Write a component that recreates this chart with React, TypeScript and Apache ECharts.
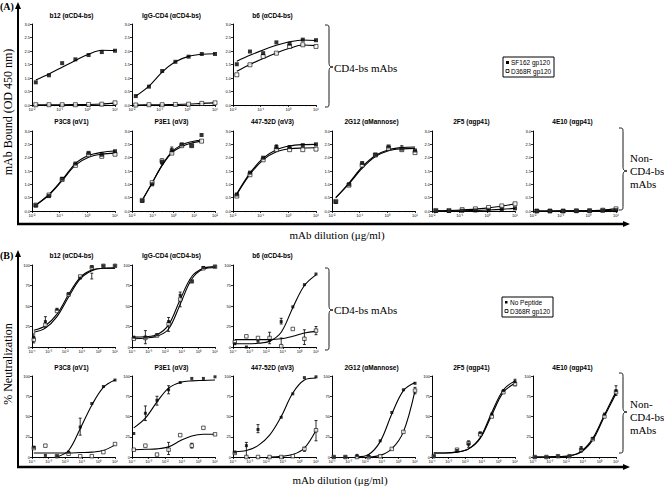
import React, { useEffect, useRef } from 'react';
import * as echarts from 'echarts';

// ---------- DATA ----------
// Panel A (ELISA, OD 450 nm) – 3-fold dilutions, µg/ml
const xA = [0.0137, 0.041, 0.123, 0.37, 1.11, 3.33, 10];
const xA_P3E1 = [0.031, 0.093, 0.28, 0.83, 2.5, 7.5, 22.5];
// Panel B (% neutralization) – 5-fold dilutions, µg/ml
const xB = [0.000128, 0.00064, 0.0032, 0.016, 0.08, 0.4, 2, 10];

const legendA = ['SF162 gp120', 'D368R gp120'];
const legendB = ['No Peptide', 'D368R gp120'];

// A row 1
const b12A_f = [0.84, 1.10, 1.55, 1.69, 1.85, 1.96, 2.01];
const b12A_o = [0.01, 0.01, 0.01, 0.01, 0.02, 0.03, 0.08];
const b12A_ff = [0.93, 1.15, 1.40, 1.65, 1.88, 2.03, 2.02];
const b12A_fo = [0.01, 0.01, 0.01, 0.015, 0.02, 0.035, 0.07];

const iggA_f = [0.33, 0.68, 1.26, 1.60, 1.79, 1.89, 1.89];
const iggA_o = [0.0, 0.01, 0.01, 0.02, 0.03, 0.06, 0.08];
const iggA_ff = [0.33, 0.70, 1.22, 1.60, 1.80, 1.88, 1.90];
const iggA_fo = [0.0, 0.005, 0.01, 0.02, 0.035, 0.06, 0.08];

const b6A_f = [1.51, 1.98, 1.92, 2.32, 2.27, 2.42, 2.40];
const b6A_o = [1.12, 1.49, 1.80, 1.92, 2.17, 2.23, 2.17];
const b6A_ff = [1.62, 1.84, 2.04, 2.21, 2.34, 2.41, 2.39];
const b6A_fo = [1.25, 1.50, 1.72, 1.93, 2.10, 2.22, 2.20];

// A row 2
const p3c8A_f = [0.21, 0.56, 1.21, 1.78, 2.18, 2.11, 2.24];
const p3c8A_o = [0.22, 0.60, 1.18, 1.71, 2.11, 2.05, 2.13];
const p3c8A_ff = [0.22, 0.62, 1.17, 1.78, 2.08, 2.20, 2.25];
const p3c8A_fo = [0.22, 0.60, 1.14, 1.72, 2.02, 2.13, 2.17];

const p3e1A_f = [0.38, 1.00, 1.84, 2.28, 2.50, 2.45, 2.85];
const p3e1A_o = [0.40, 1.06, 1.88, 2.17, 2.45, 2.45, 2.62];
const p3e1A_ff = [0.40, 1.05, 1.72, 2.22, 2.48, 2.60, 2.66];
const p3e1A_fo = [0.40, 1.05, 1.70, 2.18, 2.42, 2.55, 2.62];
const p3e1A_err = [[0.83, 2.15, 2.40], [0.28, 1.75, 1.95]];

const d447A_f = [0.62, 1.44, 2.00, 2.40, 2.40, 2.47, 2.50];
const d447A_o = [0.56, 1.36, 1.92, 2.30, 2.30, 2.30, 2.32];
const d447A_ff = [0.65, 1.42, 1.98, 2.30, 2.44, 2.49, 2.50];
const d447A_fo = [0.62, 1.37, 1.92, 2.22, 2.33, 2.36, 2.37];
const d447A_err = [[0.37, 2.30, 2.48]];

const g2g12A_f = [0.34, 1.00, 1.80, 2.11, 2.42, 2.34, 2.27];
const g2g12A_o = [0.36, 0.97, 1.72, 2.10, 2.35, 2.30, 2.19];
const g2g12A_ff = [0.50, 1.05, 1.65, 2.08, 2.30, 2.38, 2.40];
const g2g12A_fo = [0.50, 1.02, 1.60, 2.04, 2.26, 2.33, 2.35];
const g2g12A_err = [[3.33, 2.25, 2.45]];

const f2f5A_f = [0.0, 0.0, 0.01, 0.02, 0.03, 0.06, 0.10];
const f2f5A_o = [0.02, 0.02, 0.05, 0.08, 0.13, 0.19, 0.27];
const f2f5A_ff = [0.0, 0.005, 0.01, 0.02, 0.035, 0.06, 0.10];
const f2f5A_fo = [0.01, 0.02, 0.04, 0.07, 0.12, 0.18, 0.27];

const e4e10A_f = [0, 0, 0, 0, 0.01, 0.02, 0.03];
const e4e10A_o = [0, 0, 0, 0.01, 0.01, 0.03, 0.08];
const e4e10A_ff = [0, 0, 0, 0.005, 0.01, 0.02, 0.03];
const e4e10A_fo = [0, 0, 0.005, 0.01, 0.02, 0.04, 0.08];

// B row 1
const b12B_f = [12, 31, 46, 65, 84, 98, 99, 99];
const b12B_o = [9, 27, 44, 64, 86, 97, 99, 99];
const b12B_ff = [20.5, 26, 40, 64, 85, 94, 96, 96.5];
const b12B_fo = [18, 23, 37, 61, 83, 93, 96, 96];
const b12B_err = [[0.000128, 5, 16], [0.00064, 24, 37], [0.4, 83, 90]];

const iggB_f = [12, 12, 15, 31, 63, 80, 97, 98];
const iggB_o = [10, 11, 14, 28, 58, 80, 96, 98];
const iggB_ff = [12, 12.5, 15, 27, 58, 86, 96, 98];
const iggB_fo = [10, 11, 13, 22, 52, 83, 95, 97];
const iggB_err = [[0.00064, 4, 20], [0.016, 19, 36], [0.08, 49, 67]];

const b6B_f = [4, 0, 7, 8, 31, 49, 76, 89];
const b6B_o = [6, 13, 11, 11, 1, 22, 10, 20];
const b6B_ff = [4, 4, 4.5, 7, 18, 48, 75, 88];
const b6B_fo = [9, 9, 9, 9, 10, 13, 17, 19];
const b6B_err = [[0.016, 4, 18], [0.08, 0, 11], [2, 3, 21], [10, 15, 25], [0.08, 28, 35]];

// B row 2
const p3c8B_f = [12, 2, 1, 6, 37, 66, 87, 95];
const p3c8B_o = [11, 14, 1, 4, 1, 1, 6, 16];
const p3c8B_ff = [null, null, 0, 8, 35, 64, 86, 95];
const p3c8B_fo = [5, 5, 5, 5, 5.5, 6, 8, 15];
const p3c8B_err = [[0.08, 27, 48]];

const p3e1B_f = [29, 54, 70, 83, 92, 97, 97, 99];
const p3e1B_o = [9, 14, 3, 9, 27, 14, 36, 28];
const p3e1B_ff = [36, 48, 68, 85, 92, 94, 94.5, 95];
const p3e1B_fo = [9, 9.5, 10, 12.5, 20, 26, 28, 28];
const p3e1B_err = [[0.00064, 45, 63], [0.0032, 64, 75], [0.016, 78, 88], [0.016, 3, 18], [0.4, 11, 17]];

const d447B_f = [6, 14, 34, null, 49, 78, 98, 99];
const d447B_o = [5, 0, 0, 0, 0, 1, 10, 33];
const d447B_ff = [6.5, 8, 14, 27, 50, 79, 95, 97.5];
const d447B_fo = [null, null, null, 0, 1, 3, 11, 33];
const d447B_err = [[0.00064, 0, 18], [0.0032, 30, 40], [10, 20, 45], [2, 7, 12]];

const g2g12B_f = [0, 0, 2, 1, 20, 55, 83, 91];
const g2g12B_o = [0, 0, 0, 0, 1, 10, 31, 82];
const g2g12B_ff = [null, null, 0, 3, 19, 53, 82, 92];
const g2g12B_fo = [null, null, null, 0, 2, 10, 31, 82];
const g2g12B_err = [[10, 78, 86]];

const f2f5B_f = [1, null, 8, 16, 30, 53, 82, 93];
const f2f5B_o = [1, null, 9, 17, 28, 50, 80, 90];
const f2f5B_ff = [5, 5, 6, 10, 24, 55, 83, 94];
const f2f5B_fo = [5, 5, 6, 10, 23, 52, 80, 91];
const f2f5B_err = [[0.016, 12, 20], [10, 88, 96]];

const e4e10B_f = [0, 0, 1, 1, 10, 23, 53, 82];
const e4e10B_o = [0, 0, 1, 1, 9, 22, 50, 80];
const e4e10B_ff = [0, 0, 0.5, 1.5, 7, 23, 52, 81];
const e4e10B_fo = [0, 0, 0.5, 1.5, 6, 21, 50, 78];
const e4e10B_err = [[0.08, 6, 13], [10, 76, 88]];

type Panel = {
  title: string; kind: 'A' | 'B'; xs: number[]; xmin: number; xmax: number;
  f: (number | null)[]; o: (number | null)[]; ff: (number | null)[]; fo: (number | null)[];
  err?: number[][]; col: number; row: number;
};

const panels: Panel[] = [
  { title: 'b12 (αCD4-bs)', kind: 'A', xs: xA, xmin: 0.01, xmax: 10, f: b12A_f, o: b12A_o, ff: b12A_ff, fo: b12A_fo, col: 0, row: 0 },
  { title: 'IgG-CD4 (αCD4-bs)', kind: 'A', xs: xA, xmin: 0.01, xmax: 10, f: iggA_f, o: iggA_o, ff: iggA_ff, fo: iggA_fo, col: 1, row: 0 },
  { title: 'b6 (αCD4-bs)', kind: 'A', xs: xA, xmin: 0.01, xmax: 10, f: b6A_f, o: b6A_o, ff: b6A_ff, fo: b6A_fo, col: 2, row: 0 },
  { title: 'P3C8 (αV1)', kind: 'A', xs: xA, xmin: 0.01, xmax: 10, f: p3c8A_f, o: p3c8A_o, ff: p3c8A_ff, fo: p3c8A_fo, col: 0, row: 1 },
  { title: 'P3E1 (αV3)', kind: 'A', xs: xA_P3E1, xmin: 0.01, xmax: 100, f: p3e1A_f, o: p3e1A_o, ff: p3e1A_ff, fo: p3e1A_fo, err: p3e1A_err, col: 1, row: 1 },
  { title: '447-52D (αV3)', kind: 'A', xs: xA, xmin: 0.01, xmax: 10, f: d447A_f, o: d447A_o, ff: d447A_ff, fo: d447A_fo, err: d447A_err, col: 2, row: 1 },
  { title: '2G12 (αMannose)', kind: 'A', xs: xA, xmin: 0.01, xmax: 10, f: g2g12A_f, o: g2g12A_o, ff: g2g12A_ff, fo: g2g12A_fo, err: g2g12A_err, col: 3, row: 1 },
  { title: '2F5 (αgp41)', kind: 'A', xs: xA, xmin: 0.01, xmax: 10, f: f2f5A_f, o: f2f5A_o, ff: f2f5A_ff, fo: f2f5A_fo, col: 4, row: 1 },
  { title: '4E10 (αgp41)', kind: 'A', xs: xA, xmin: 0.01, xmax: 10, f: e4e10A_f, o: e4e10A_o, ff: e4e10A_ff, fo: e4e10A_fo, col: 5, row: 1 },
  { title: 'b12 (αCD4-bs)', kind: 'B', xs: xB, xmin: 0.0001, xmax: 10, f: b12B_f, o: b12B_o, ff: b12B_ff, fo: b12B_fo, err: b12B_err, col: 0, row: 2 },
  { title: 'IgG-CD4 (αCD4-bs)', kind: 'B', xs: xB, xmin: 0.0001, xmax: 10, f: iggB_f, o: iggB_o, ff: iggB_ff, fo: iggB_fo, err: iggB_err, col: 1, row: 2 },
  { title: 'b6 (αCD4-bs)', kind: 'B', xs: xB, xmin: 0.0001, xmax: 10, f: b6B_f, o: b6B_o, ff: b6B_ff, fo: b6B_fo, err: b6B_err, col: 2, row: 2 },
  { title: 'P3C8 (αV1)', kind: 'B', xs: xB, xmin: 0.0001, xmax: 10, f: p3c8B_f, o: p3c8B_o, ff: p3c8B_ff, fo: p3c8B_fo, err: p3c8B_err, col: 0, row: 3 },
  { title: 'P3E1 (αV3)', kind: 'B', xs: xB, xmin: 0.0001, xmax: 10, f: p3e1B_f, o: p3e1B_o, ff: p3e1B_ff, fo: p3e1B_fo, err: p3e1B_err, col: 1, row: 3 },
  { title: '447-52D (αV3)', kind: 'B', xs: xB, xmin: 0.0001, xmax: 10, f: d447B_f, o: d447B_o, ff: d447B_ff, fo: d447B_fo, err: d447B_err, col: 2, row: 3 },
  { title: '2G12 (αMannose)', kind: 'B', xs: xB, xmin: 0.0001, xmax: 10, f: g2g12B_f, o: g2g12B_o, ff: g2g12B_ff, fo: g2g12B_fo, err: g2g12B_err, col: 3, row: 3 },
  { title: '2F5 (αgp41)', kind: 'B', xs: xB, xmin: 0.0001, xmax: 10, f: f2f5B_f, o: f2f5B_o, ff: f2f5B_ff, fo: f2f5B_fo, err: f2f5B_err, col: 4, row: 3 },
  { title: '4E10 (αgp41)', kind: 'B', xs: xB, xmin: 0.0001, xmax: 10, f: e4e10B_f, o: e4e10B_o, ff: e4e10B_ff, fo: e4e10B_fo, err: e4e10B_err, col: 5, row: 3 },
];

// ---------- LAYOUT ----------
const COL_LEFT = [32, 132, 233, 332, 432, 533];
const COL_W = 83;
const ROW_TOP = [24, 131, 265, 376];
const ROW_H = [81, 80, 82, 81];
const TITLE_Y = [15, 121, 255, 367];

const SUP: Record<string, string> = { '-': '⁻', '0': '⁰', '1': '¹', '2': '²', '3': '³', '4': '⁴', '5': '⁵', '6': '⁶', '7': '⁷', '8': '⁸', '9': '⁹' };
const pow10Label = (v: number) => '10' + String(Math.round(Math.log10(v))).split('').map((c) => SUP[c] || c).join('');

const SANS = '"Liberation Sans", Arial, sans-serif';
const SERIF = '"Liberation Serif", "Times New Roman", serif';

function brace(xL: number, y1: number, y2: number, mid: number) {
  const xS = xL + 4, xT = xL + 8, r = 5;
  const st = { stroke: '#000', lineWidth: 0.9, fill: 'none' };
  const bz = (x1: number, yA: number, c1x: number, c1y: number, c2x: number, c2y: number, x2: number, yB: number) => ({
    type: 'bezierCurve', shape: { x1, y1: yA, cpx1: c1x, cpy1: c1y, cpx2: c2x, cpy2: c2y, x2, y2: yB }, style: st, silent: true,
  });
  const ln = (yA: number, yB: number) => ({ type: 'line', shape: { x1: xS, y1: yA, x2: xS, y2: yB }, style: st, silent: true });
  return [
    bz(xL, y1, xS, y1, xS, y1, xS, y1 + r),
    ln(y1 + r, mid - r),
    bz(xS, mid - r, xS, mid - 1, xS + 1, mid, xT, mid),
    bz(xT, mid, xS + 1, mid, xS, mid + 1, xS, mid + r),
    ln(mid + r, y2 - r),
    bz(xS, y2 - r, xS, y2, xS, y2, xL, y2),
  ];
}

function legendBox(x: number, y: number, labels: string[], filledSize: number) {
  return [
    { type: 'rect', shape: { x, y, width: 51, height: 20 }, style: { fill: '#fff', stroke: '#000', lineWidth: 1 }, silent: true },
    { type: 'rect', shape: { x: x + 3, y: y + 4, width: filledSize, height: filledSize }, style: { fill: '#000' }, silent: true },
    { type: 'rect', shape: { x: x + 3, y: y + 12.5, width: 3, height: 3 }, style: { fill: '#fff', stroke: '#000', lineWidth: 0.8 }, silent: true },
    { type: 'text', x: x + 8, y: y + 5.5, style: { text: labels[0], font: `6.5px ${SANS}`, fill: '#000', verticalAlign: 'middle' }, silent: true },
    { type: 'text', x: x + 8, y: y + 14, style: { text: labels[1], font: `6.5px ${SANS}`, fill: '#000', verticalAlign: 'middle' }, silent: true },
  ];
}

function arrowSet(yTop: number, yBottom: number) {
  return [
    { type: 'line', shape: { x1: 18, y1: yTop + 6, x2: 18, y2: yBottom + 1 }, style: { stroke: '#000', lineWidth: 2 }, silent: true },
    { type: 'polygon', shape: { points: [[15, yTop + 7], [21, yTop + 7], [18, yTop]] }, style: { fill: '#000' }, silent: true },
    { type: 'line', shape: { x1: 17, y1: yBottom, x2: 624, y2: yBottom }, style: { stroke: '#000', lineWidth: 2.4 }, silent: true },
    { type: 'polygon', shape: { points: [[623, yBottom - 3], [623, yBottom + 3], [630, yBottom]] }, style: { fill: '#000' }, silent: true },
  ];
}

function serifText(x: number, y: number, text: string, extra: any = {}) {
  return { type: 'text', x, y, style: { text, font: `11px ${SERIF}`, fill: '#000', verticalAlign: 'middle', ...extra }, silent: true };
}

function errRender(params: any, api: any) {
  const x = api.value(0);
  const p1 = api.coord([x, api.value(1)]);
  const p2 = api.coord([x, api.value(2)]);
  const st = { stroke: '#000', lineWidth: 0.8 };
  return {
    type: 'group',
    children: [
      { type: 'line', shape: { x1: p1[0], y1: p1[1], x2: p2[0], y2: p2[1] }, style: st },
      { type: 'line', shape: { x1: p1[0] - 1.5, y1: p1[1], x2: p1[0] + 1.5, y2: p1[1] }, style: st },
      { type: 'line', shape: { x1: p2[0] - 1.5, y1: p2[1], x2: p2[0] + 1.5, y2: p2[1] }, style: st },
    ],
  };
}

function buildOption() {
  const grid: any[] = [], xAxis: any[] = [], yAxis: any[] = [], series: any[] = [];
  const graphic: any[] = [];
  panels.forEach((p, i) => {
    const left = COL_LEFT[p.col], top = ROW_TOP[p.row], h = ROW_H[p.row];
    grid.push({ left, top, width: COL_W, height: h });
    xAxis.push({
      type: 'log', logBase: 10, gridIndex: i, min: p.xmin, max: p.xmax,
      axisLine: { onZero: false, lineStyle: { color: '#000', width: 1 } },
      axisTick: { length: 2, lineStyle: { color: '#000', width: 0.8 } },
      minorTick: { show: true, splitNumber: 5, length: 1.2, lineStyle: { color: '#000', width: 0.5 } },
      splitLine: { show: false },
      axisLabel: { formatter: pow10Label, fontSize: 4, margin: 2, color: '#000', fontFamily: SANS },
    });
    const isA = p.kind === 'A';
    yAxis.push({
      type: 'value', gridIndex: i, min: 0, max: isA ? 3 : 100, interval: isA ? 0.5 : 25,
      axisLine: { show: true, lineStyle: { color: '#000', width: 1 } },
      axisTick: { show: true, length: 2, lineStyle: { color: '#000', width: 0.8 } },
      splitLine: { show: false },
      axisLabel: { formatter: (v: number) => (isA ? v.toFixed(1) : String(v)), fontSize: 4, margin: 2, color: '#000', fontFamily: SANS },
    });
    const pair = (ys: (number | null)[]) => p.xs.map((x, j) => [x, ys[j] == null ? '-' : ys[j]]);
    const lineS = (ys: (number | null)[]) => ({
      type: 'line', xAxisIndex: i, yAxisIndex: i, data: pair(ys), smooth: 0.35, showSymbol: false, silent: true, z: 2,
      lineStyle: { color: '#000', width: 1.1 },
    });
    series.push(lineS(p.fo), lineS(p.ff));
    if (p.err) {
      series.push({
        type: 'custom', xAxisIndex: i, yAxisIndex: i, data: p.err, renderItem: errRender, silent: true, z: 2,
        encode: { x: 0, y: [1, 2] },
      });
    }
    series.push({
      type: 'scatter', xAxisIndex: i, yAxisIndex: i, data: pair(p.o), symbol: 'rect', symbolSize: isA ? 4 : 3.5, silent: true, z: 3,
      itemStyle: { color: '#fff', borderColor: '#000', borderWidth: 0.8 },
    });
    series.push({
      type: 'scatter', xAxisIndex: i, yAxisIndex: i, data: pair(p.f), symbol: 'rect', symbolSize: isA ? 4 : 3, silent: true, z: 4,
      itemStyle: { color: '#000' },
    });
    graphic.push({
      type: 'text', x: left + COL_W / 2 - 2, y: TITLE_Y[p.row],
      style: { text: p.title, font: `bold 6.5px ${SANS}`, fill: '#000', align: 'center', verticalAlign: 'middle' }, silent: true,
    });
  });

  graphic.push(...arrowSet(2, 224), ...arrowSet(250, 467));
  graphic.push({ type: 'text', x: 0, y: 6, style: { text: '(A)', font: `bold 10px ${SERIF}`, fill: '#000', verticalAlign: 'middle' }, silent: true });
  graphic.push({ type: 'text', x: 0, y: 255, style: { text: '(B)', font: `bold 10px ${SERIF}`, fill: '#000', verticalAlign: 'middle' }, silent: true });
  graphic.push({ type: 'text', x: 8, y: 112, rotation: Math.PI / 2, style: { text: 'mAb Bound (OD 450 nm)', font: `12px ${SERIF}`, fill: '#000', align: 'center', verticalAlign: 'middle' }, silent: true });
  graphic.push({ type: 'text', x: 8, y: 364, rotation: Math.PI / 2, style: { text: '% Neutralization', font: `12px ${SERIF}`, fill: '#000', align: 'center', verticalAlign: 'middle' }, silent: true });
  graphic.push(serifText(337, 235, 'mAb dilution (μg/ml)', { align: 'center' }));
  graphic.push(serifText(340, 480, 'mAb dilution (μg/ml)', { align: 'center' }));

  graphic.push(...brace(325, 25, 107, 67), serifText(334, 68, 'CD4-bs mAbs'));
  graphic.push(...brace(619, 128, 210, 171), serifText(630, 158, 'Non-'), serifText(630, 171, 'CD4-bs'), serifText(630, 184, 'mAbs'));
  graphic.push(...brace(325, 268, 350, 310), serifText(334, 310, 'CD4-bs mAbs'));
  graphic.push(...brace(619, 373, 453, 412), serifText(630, 404, 'Non-'), serifText(630, 417, 'CD4-bs'), serifText(630, 430, 'mAbs'));

  graphic.push(...legendBox(503, 57, legendA, 3), ...legendBox(502, 297, legendB, 2.5));

  return { animation: false, backgroundColor: '#fff', grid, xAxis, yAxis, series, graphic };
}

export default function App() {
  const ref = useRef<HTMLDivElement>(null);
  useEffect(() => {
    if (!ref.current) return;
    const chart = echarts.init(ref.current, null, { renderer: 'svg' });
    chart.setOption(buildOption() as any);
    return () => chart.dispose();
  }, []);
  return <div ref={ref} style={{ position: 'absolute', left: 0, top: 0, width: 664, height: 486, background: '#fff' }} />;
}
